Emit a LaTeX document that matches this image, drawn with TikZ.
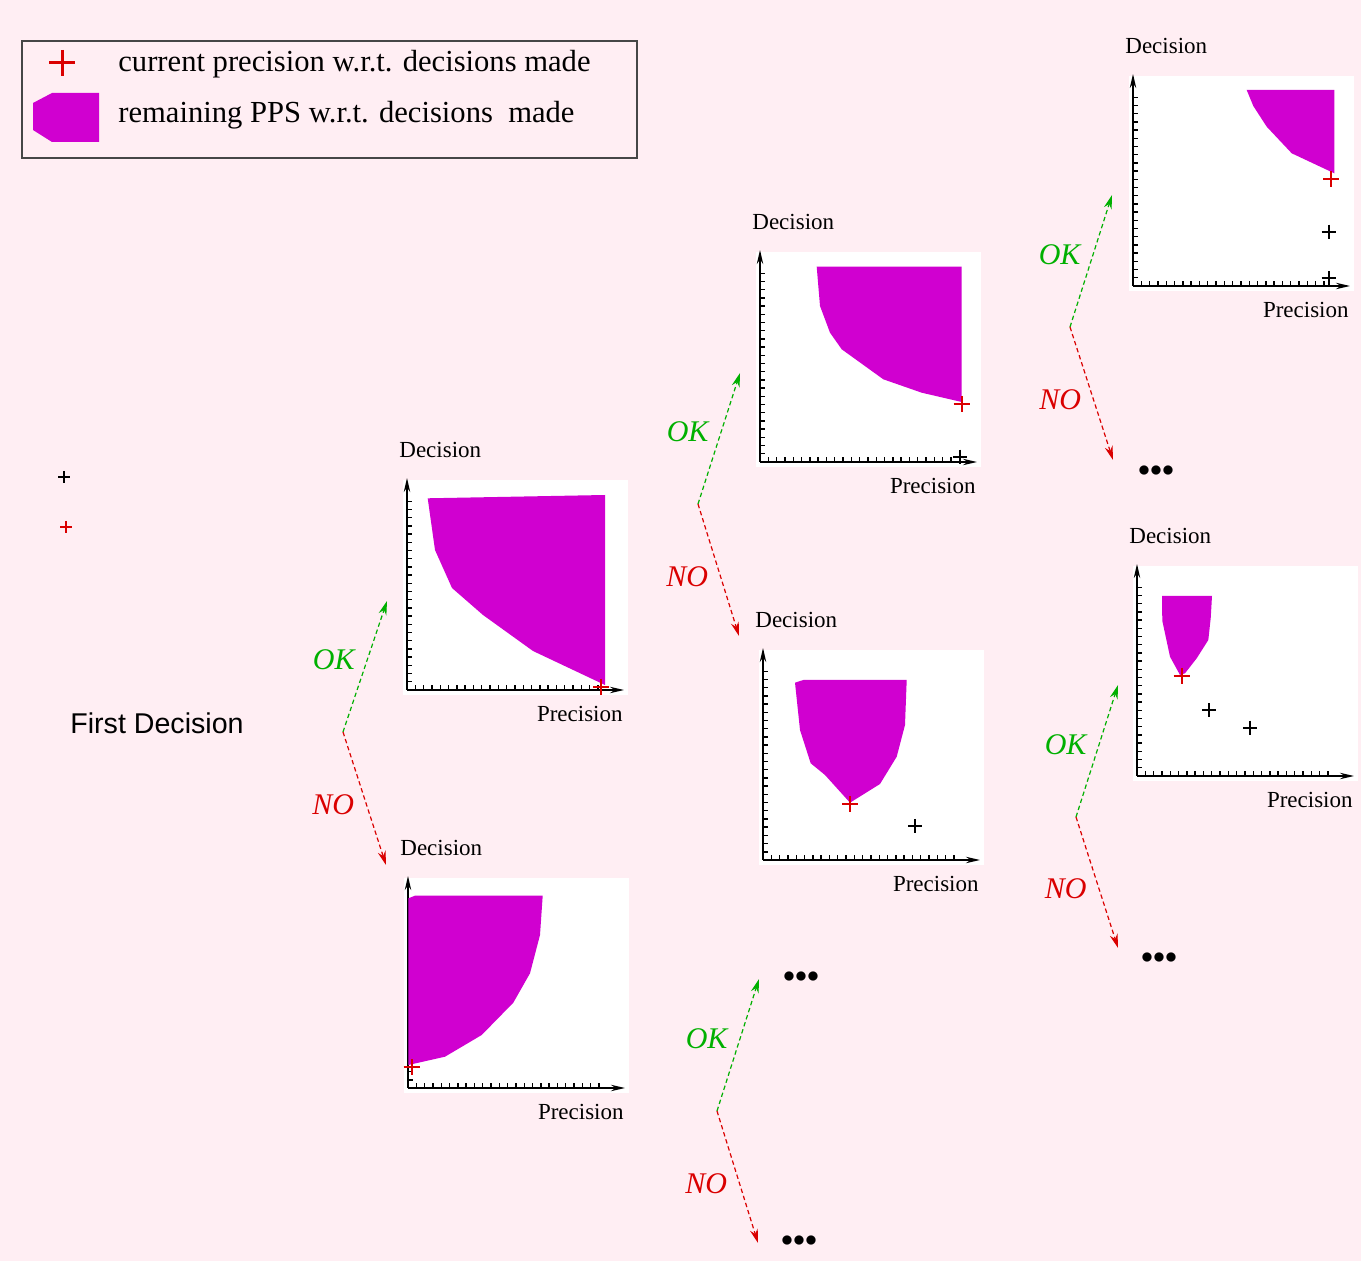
\documentclass[tikz,border=0pt]{standalone}
\usepackage{fontspec}
\setmainfont{Liberation Serif}
\newfontfamily\headfont{Liberation Sans}
\usetikzlibrary{arrows.meta}
\definecolor{bgpink}{RGB}{255,238,243}
\definecolor{ppsmagenta}{RGB}{208,0,208}
\definecolor{curred}{RGB}{218,0,0}
\definecolor{okgreen}{RGB}{0,176,0}
\definecolor{framegray}{RGB}{70,70,70}
\tikzset{
  axis/.style={draw=black,line width=0.8pt,-{Stealth[length=7pt,width=3.2pt]}},
  tick/.style={draw=black,line width=0.7pt},
  pps/.style={fill=ppsmagenta},
  curmark/.style={draw=curred,line width=1pt},
  oldmark/.style={draw=black,line width=1pt},
  axislabel/.style={inner sep=0pt,font=\fontsize{11.5}{13}\selectfont},
  legendtext/.style={inner sep=0pt,anchor=west,font=\fontsize{15.3}{18}\selectfont},
  okflow/.style={draw=okgreen,line width=0.6pt,dash pattern=on 2.2pt off 1.5pt,
    -{Stealth[length=7pt,width=4pt]}},
  noflow/.style={draw=curred,line width=0.6pt,dash pattern=on 2.2pt off 1.5pt,
    -{Stealth[length=7pt,width=4pt]}},
  oklabel/.style={text=okgreen,inner sep=0pt,font=\fontsize{15}{17}\selectfont\itshape},
  nolabel/.style={text=curred,inner sep=0pt,font=\fontsize{15}{17}\selectfont\itshape},
  ellip/.style={inner sep=0pt,font=\fontsize{13}{15}\selectfont},
  pics/pluscross/.style={code={\draw (-#1,0) -- (#1,0) (0,-#1) -- (0,#1);}},
}
\newcommand{\ppsplot}[2]{%
  \begin{scope}[shift={#2}]
    \fill[white] (-4,-210) rectangle (221,5);
    \draw[axis] (0,0) -- (0,-212);
    \draw[axis] (0,0) -- (217,0);
    \foreach \k in {1,...,23} {
      \draw[tick] (0,-\k*8.2) -- ++(5,0);
      \draw[tick] (\k*8.3,0) -- ++(0,-5);
    }
    \node[axislabel,anchor=west] (#1dec) at (-8,-240) {Decision};
    \node[axislabel,anchor=east] (#1prec) at (216,24) {Precision};
  \end{scope}}

\begin{document}
\begin{tikzpicture}[x=0.5pt,y=-0.5pt]
  \fill[bgpink] (0,0) rectangle (1361,1261);
  \useasboundingbox (0,0) rectangle (1361,1261);

  \draw[framegray,line width=0.6pt] (22,41) rectangle (637,158);
  \pic[curmark,line width=1.5pt] at (62,63) {pluscross=13};
  \fill[pps] (33,103) -- (52,93) -- (99,93) -- (99,142) -- (52,142) -- (33,130) -- cycle;
  \node[legendtext] (leg1) at (118,64) {current precision w.r.t. decisions made};
  \node[legendtext] (leg2) at (118,115) {remaining PPS w.r.t. decisions~ made};

  \pic[oldmark,line width=0.6pt] at (64,477) {pluscross=6};
  \pic[curmark,line width=0.6pt] at (66,527) {pluscross=6};
  \node[font=\headfont\fontsize{14.3}{17}\selectfont] (first) at (157,723) {First Decision};

  \ppsplot{pa}{(407,690)}
  \fill[pps] (427.7,498.3) -- (605,495) -- (605,685) -- (533,651) -- (483,615)
    -- (452,588) -- (435,550) -- cycle;
  \pic[curmark] at (601,687) {pluscross=8};

  \ppsplot{pb}{(760,462)}
  \fill[pps] (816.7,266.7) -- (961.7,266.7) -- (961.7,402) -- (921.7,392.7)
    -- (883.3,379.3) -- (841.7,349.3) -- (830,332.7) -- (820,306) -- cycle;
  \pic[curmark] at (961.7,404) {pluscross=8};
  \pic[oldmark] at (960,456.7) {pluscross=7};

  \ppsplot{pc}{(763,860)}
  \fill[pps] (795,682.7) -- (803.3,680) -- (906.7,680) -- (905,725) -- (896.7,756.7)
    -- (880,784) -- (850,802.7) -- (825,775) -- (810.7,763.3) -- (800,730) -- cycle;
  \pic[curmark] at (850,804) {pluscross=8};
  \pic[oldmark] at (915,826) {pluscross=7};

  \ppsplot{pd}{(408,1088)}
  \fill[pps] (408.3,898.3) -- (415,895.7) -- (542.7,895.7) -- (540,935) -- (530,973.3)
    -- (513.3,1002.7) -- (481.7,1035) -- (445,1056.7) -- (408.3,1065) -- cycle;
  \pic[curmark] at (411.7,1067.3) {pluscross=8};

  \ppsplot{pe}{(1133,286)}
  \fill[pps] (1246.7,90) -- (1334.3,90) -- (1334.3,173.3) -- (1291.7,153.3)
    -- (1266.7,126.7) -- (1253.3,106) -- cycle;
  \pic[curmark] at (1331,179) {pluscross=8};
  \pic[oldmark] at (1328.7,231.7) {pluscross=7};
  \pic[oldmark] at (1328.7,278.3) {pluscross=7};

  \ppsplot{pf}{(1137,776)}
  \fill[pps] (1162,596) -- (1212,596) -- (1210.7,618.3) -- (1208.3,640) -- (1196.7,658.3)
    -- (1185,673.3) -- (1180,675) -- (1170,656.7) -- (1162.3,620.7) -- cycle;
  \pic[curmark] at (1181.7,675.7) {pluscross=8};
  \pic[oldmark] at (1209.3,710.3) {pluscross=7};
  \pic[oldmark] at (1250,727.7) {pluscross=7};

  \node[ellip] (more1) at (801,977) {${\bullet}{\bullet}{\bullet}$};
  \node[ellip] (more2) at (799,1241) {${\bullet}{\bullet}{\bullet}$};
  \node[ellip] (more3) at (1156,471) {${\bullet}{\bullet}{\bullet}$};
  \node[ellip] (more4) at (1159,958) {${\bullet}{\bullet}{\bullet}$};

  \coordinate (br1) at (343,732);
  \coordinate (br1ok) at (387,601);
  \coordinate (br1no) at (386,865);
  \coordinate (br2) at (698,504);
  \coordinate (br2ok) at (740,373);
  \coordinate (br2no) at (739,636);
  \coordinate (br3) at (1070,327);
  \coordinate (br3ok) at (1112,195);
  \coordinate (br3no) at (1113,460);
  \coordinate (br4) at (1076,817);
  \coordinate (br4ok) at (1118,685);
  \coordinate (br4no) at (1118,948);
  \coordinate (br5) at (717,1111);
  \coordinate (br5ok) at (759,979);
  \coordinate (br5no) at (758,1243);

  \foreach \b in {br1,br2,br3,br4,br5} {
    \draw[okflow] (\b) -- (\b ok) node[oklabel,pos=0.55,anchor=east,xshift=-6pt] {OK};
    \draw[noflow] (\b) -- (\b no) node[nolabel,pos=0.55,anchor=east,xshift=-6pt] {NO};
  }
\end{tikzpicture}
\end{document}
